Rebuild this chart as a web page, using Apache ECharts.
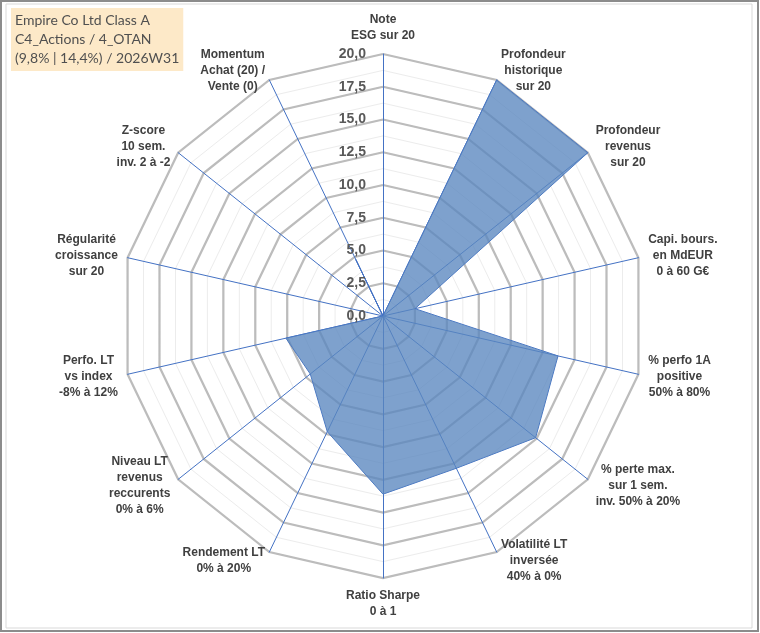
<!DOCTYPE html>
<html>
<head>
<meta charset="utf-8">
<script src="https://cdn.jsdelivr.net/npm/echarts@6/dist/echarts.min.js"></script>
<style>
  html, body { margin: 0; padding: 0; background: #fff; }
  #radar-chart { width: 760px; height: 633px; }
</style>
</head>
<body>
<div id="radar-chart"></div>
<script>
// axis names, clockwise from the top
var indicatorNames = [
    'Note\nESG sur 20',
    'Profondeur\nhistorique\nsur 20',
    'Profondeur\nrevenus\nsur 20',
    'Capi. bours.\nen MdEUR\n0 à 60 G€',
    '% perfo 1A\npositive\n50% à 80%',
    '% perte max.\nsur 1 sem.\ninv. 50% à 20%',
    'Volatilité LT\ninversée\n40% à 0%',
    'Ratio Sharpe\n0 à 1',
    'Rendement LT\n0% à 20%',
    'Niveau LT\nrevenus\nreccurents\n0% à 6%',
    'Perfo. LT\nvs index\n-8% à 12%',
    'Régularité\ncroissance\nsur 20',
    'Z-score\n10 sem.\ninv. 2 à -2',
    'Momentum\nAchat (20) /\nVente (0)'
];
var scores = [0, 20, 20, 2.5, 13.7, 14.9, 12.9, 13.6, 9.8, 7.1, 7.6, 0, 0, 4.8];
var scaleMax = 20;
var scaleStep = 2.5;
var titleLines = ['Empire Co Ltd Class A', 'C4_Actions / 4_OTAN', '(9,8% | 14,4%) / 2026W31'];

var chartElement = document.getElementById('radar-chart');
var mychart = echarts.init(chartElement);

var center = [383, 316];
var radius = 262;

// echarts lays radar axes out counter-clockwise: keep the first one on top, reverse the rest
function toCcw(arr) {
    return [arr[0]].concat(arr.slice(1).reverse());
}

var indicators = toCcw(indicatorNames).map(function (n) {
    return { name: n, min: 0, max: scaleMax };
});

var option = {
    backgroundColor: '#fff',
    animation: false,
    title: {
        text: titleLines.join('\n'),
        left: 11,
        top: 8,
        padding: [3, 4, 3, 4],
        backgroundColor: '#fde9c8',
        textStyle: {
            fontFamily: 'Lato',
            fontSize: 14,
            fontWeight: 'normal',
            color: '#505050',
            lineHeight: 19
        }
    },
    graphic: [
        {
            type: 'rect',
            shape: { x: 1, y: 1, width: 757, height: 630 },
            style: { fill: 'none', stroke: '#8c8c8c', lineWidth: 2 },
            silent: true
        },
        {
            type: 'rect',
            shape: { x: 6, y: 4, width: 746, height: 624 },
            style: { fill: 'none', stroke: '#d9d9d9', lineWidth: 1 },
            silent: true
        }
    ],
    radar: [
        {
            // minor rings
            center: center,
            radius: radius,
            shape: 'polygon',
            splitNumber: scaleMax / scaleStep * 2,
            indicator: indicators,
            axisName: { show: false },
            axisLine: { show: false },
            splitArea: { show: false },
            splitLine: { lineStyle: { color: '#ececec', width: 1 } }
        },
        {
            center: center,
            radius: radius,
            shape: 'polygon',
            splitNumber: scaleMax / scaleStep,
            indicator: indicators,
            axisNameGap: 10,
            axisName: {
                formatter: function (value) {
                    return value.split('\n').map(function (l) {
                        return '{n|' + l + '}';
                    }).join('\n');
                },
                rich: {
                    n: {
                        align: 'center',
                        fontFamily: 'Liberation Sans',
                        fontWeight: 'bold',
                        fontSize: 12,
                        lineHeight: 16,
                        color: '#404040'
                    }
                }
            },
            axisLine: { lineStyle: { color: '#4472C4', width: 1 } },
            splitArea: { show: false },
            splitLine: { lineStyle: { color: '#bcbcbc', width: 2.25 } }
        }
    ],
    polar: { center: center, radius: radius },
    angleAxis: {
        startAngle: 90,
        show: false,
        min: 0,
        max: 360
    },
    radiusAxis: {
        min: 0,
        max: scaleMax,
        interval: scaleStep,
        axisLine: { show: false },
        axisTick: { show: false },
        splitLine: { show: false },
        axisLabel: {
            margin: 17,
            color: '#595959',
            fontFamily: 'Liberation Sans',
            fontWeight: 'bold',
            fontSize: 14,
            formatter: function (v) { return v.toFixed(1).replace('.', ','); }
        },
        z: 10
    },
    series: [
        {
            type: 'radar',
            radarIndex: 1,
            symbol: 'none',
            lineStyle: { color: '#4472C4', width: 1 },
            areaStyle: {
                color: '#5a86bf',
                opacity: 0.78
            },
            data: [{ value: toCcw(scores), name: 'Score' }],
            z: 2
        }
    ]
};
mychart.setOption(option);
</script>
</body>
</html>
